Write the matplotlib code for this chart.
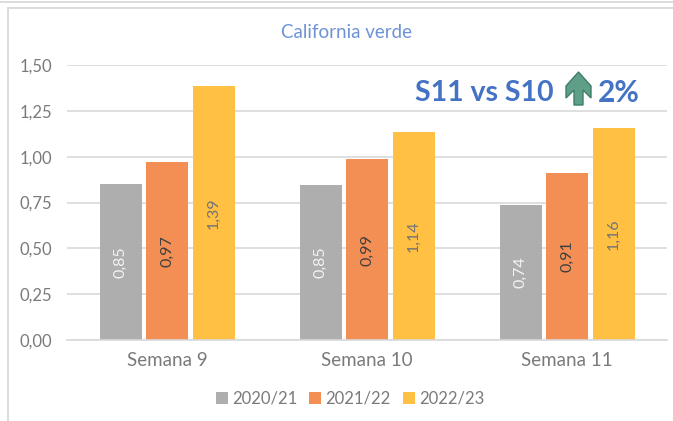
import matplotlib
matplotlib.use("Agg")
import matplotlib.pyplot as plt
from matplotlib.lines import Line2D
from matplotlib.patches import Polygon
import numpy as np

semanas = ["Semana 9", "Semana 10", "Semana 11"]
campanas = ["2020/21", "2021/22", "2022/23"]
valores_2021 = [0.85, 0.845, 0.735]
valores_2122 = [0.97, 0.985, 0.91]
valores_2223 = [1.385, 1.135, 1.155]
etiquetas_2021 = ["0,85", "0,85", "0,74"]
etiquetas_2122 = ["0,97", "0,99", "0,91"]
etiquetas_2223 = ["1,39", "1,14", "1,16"]
ticks_y = [0, 0.25, 0.5, 0.75, 1.0, 1.25, 1.5]
ticks_y_txt = ["0,00", "0,25", "0,50", "0,75", "1,00", "1,25", "1,50"]

W, H = 673, 421
GRIS_TXT = "#7a7a7a"
AZUL = "#4472c4"

plt.rcParams["font.family"] = ["Lato", "DejaVu Sans"]

fig = plt.figure(figsize=(W / 100, H / 100), dpi=100, facecolor="white")


def fx(px):
    return px / W


def fy(py):
    return 1 - py / H


# Marco de la hoja
for xs, ys in [((0, W), (1.5, 1.5)), ((7.5, W), (8, 8)), ((7.5, 7.5), (8, H))]:
    fig.add_artist(Line2D([fx(x) for x in xs], [fy(y) for y in ys], color="#d9d9d9", lw=1.3))

ax = fig.add_axes([fx(67), fy(340), fx(600), (340 - 65) / H])
x = np.arange(len(semanas))
paso = 0.2325
ancho = 0.21

series = [
    (valores_2021, etiquetas_2021, "#aeaeae", "#f4f4f4"),
    (valores_2122, etiquetas_2122, "#f38f55", "#3f3f3f"),
    (valores_2223, etiquetas_2223, "#ffc044", "#757575"),
]
for i, (vals, etiq, color, color_txt) in enumerate(series):
    pos = x + (i - 1) * paso
    ax.bar(pos, vals, ancho, color=color, label=campanas[i], zorder=2)
    for px_, v, t in zip(pos, vals, etiq):
        ax.text(px_, v / 2, t, rotation=90, ha="center", va="center",
                fontsize=11.5, color=color_txt, zorder=3)

ax.set_xlim(-0.5, 2.5)
ax.set_ylim(0, 1.5)
ax.set_xticks(x)
ax.set_xticklabels(semanas, fontsize=13.5, color=GRIS_TXT)
ax.set_yticks(ticks_y)
ax.set_yticklabels(ticks_y_txt, fontsize=12, color=GRIS_TXT)
ax.tick_params(axis="both", length=0)
ax.tick_params(axis="x", pad=9)
ax.tick_params(axis="y", pad=11)
ax.grid(axis="y", color="#d9d9d9", lw=1.2, zorder=0)
ax.set_axisbelow(True)
ax.margins(0)
for lado in ["top", "right", "left"]:
    ax.spines[lado].set_visible(False)
ax.spines["bottom"].set_color("#d9d9d9")
ax.spines["bottom"].set_linewidth(1.2)

fig.text(fx(347), fy(33), "California verde", ha="center", va="center",
         fontsize=13.5, color="#6f92d6")

fig.text(fx(415), fy(93), "S11 vs S10", ha="left", va="center",
         fontsize=20.5, fontweight="bold", color=AZUL)
fig.text(fx(598), fy(93), "2%", ha="left", va="center",
         fontsize=21.5, fontweight="bold", color=AZUL)

# Flecha verde hacia arriba
flecha = [(578.5, 72), (591, 86), (591, 98), (583, 90), (583, 105), (574, 105), (574, 90), (566, 98), (566, 86)]
fig.add_artist(Polygon([(fx(a), fy(b)) for a, b in flecha], closed=True,
                       transform=fig.transFigure, facecolor="#5f9f88", edgecolor="#3f7f68", lw=1))

ley = ax.legend(loc="center", bbox_to_anchor=(fx(350), fy(399)), bbox_transform=fig.transFigure,
                ncol=3, frameon=False, prop={"size": 12},
                handlelength=0.7, handleheight=0.7,
                handletextpad=0.25, columnspacing=0.75, borderpad=0)
for t in ley.get_texts():
    t.set_color(GRIS_TXT)

fig.savefig("out.png", dpi=100)
